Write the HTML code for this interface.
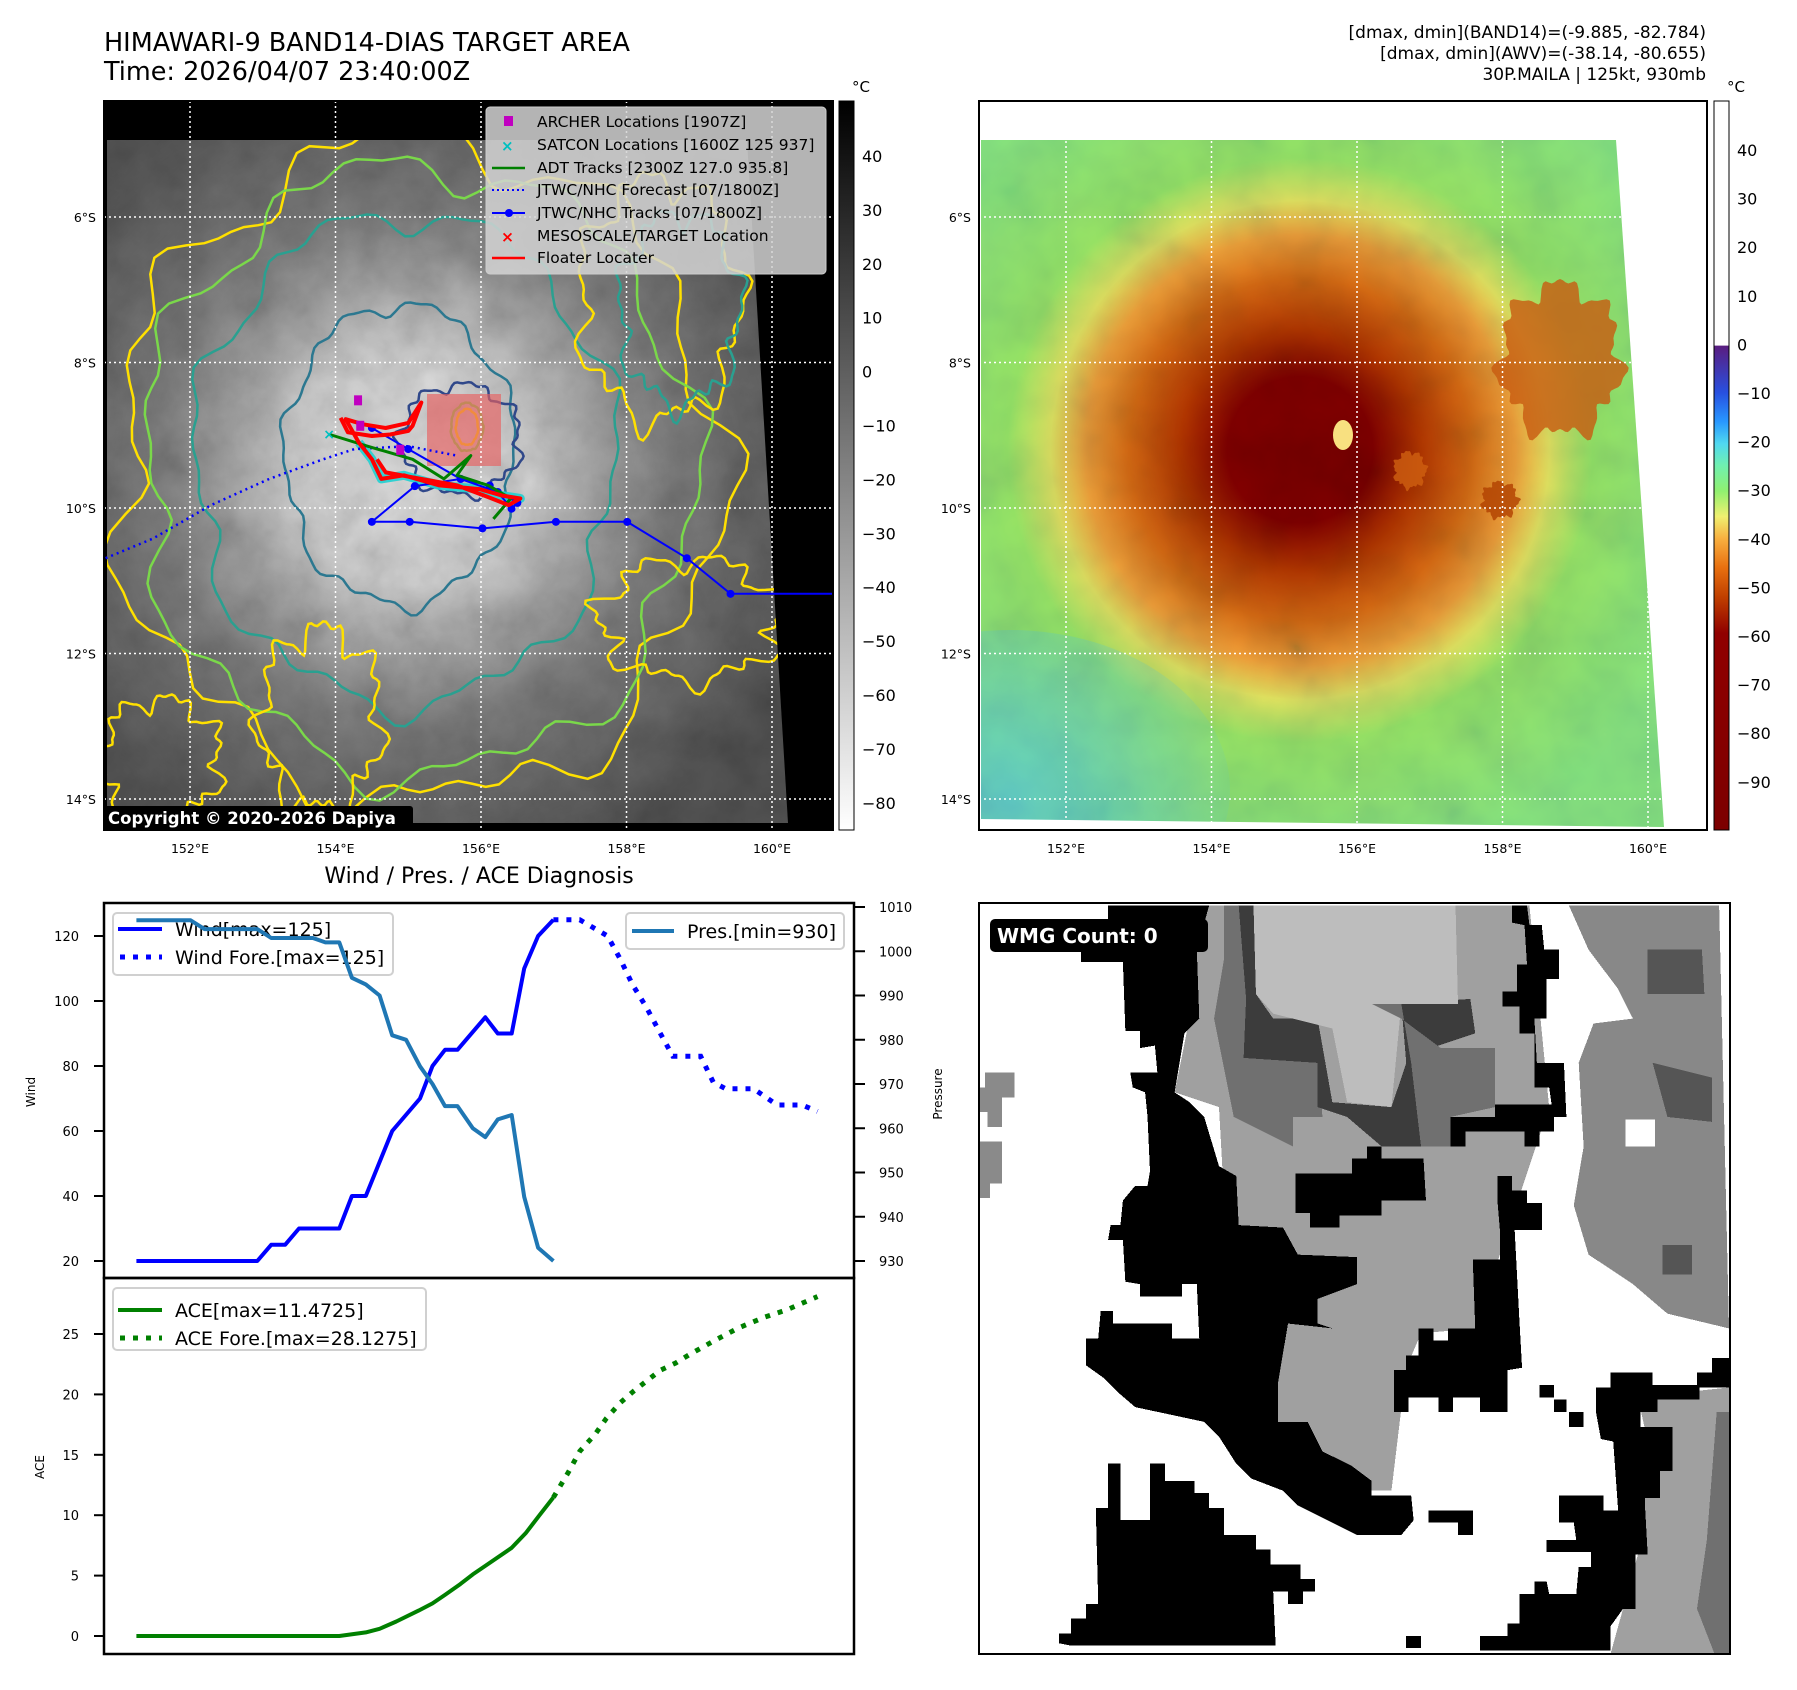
<!DOCTYPE html>
<html><head><meta charset="utf-8">
<style>
html,body{margin:0;padding:0;background:#fff;}
svg{display:block;font-family:"DejaVu Sans","Liberation Sans",sans-serif;}
</style></head>
<body>
<svg id="root" xmlns="http://www.w3.org/2000/svg" width="1797" height="1690" viewBox="0 0 1797 1690">
<defs>
  <clipPath id="clipL"><rect x="104" y="101" width="729" height="729"/></clipPath>
  <clipPath id="clipR"><rect x="979" y="101" width="728" height="729"/></clipPath>
  <clipPath id="imgL"><polygon points="107,140 747,140 788,823 107,823"/></clipPath>
  <clipPath id="imgR"><polygon points="981,140 1616,140 1664,827 981,819"/></clipPath>
  <radialGradient id="gGray" cx="412" cy="467" r="420" gradientUnits="userSpaceOnUse">
    <stop offset="0" stop-color="#f4f4f4"/>
    <stop offset="0.28" stop-color="#e0e0e0"/>
    <stop offset="0.45" stop-color="#b0b0b0"/>
    <stop offset="0.62" stop-color="#878787"/>
    <stop offset="1" stop-color="#5a5a5a"/>
  </radialGradient>
  <radialGradient id="gColor" cx="1300" cy="450" r="430" gradientUnits="userSpaceOnUse">
    <stop offset="0" stop-color="#7a0000"/>
    <stop offset="0.17" stop-color="#820000"/>
    <stop offset="0.28" stop-color="#b03800"/>
    <stop offset="0.4" stop-color="#d87018"/>
    <stop offset="0.5" stop-color="#f0a848"/>
    <stop offset="0.58" stop-color="#e0ec78"/>
    <stop offset="0.68" stop-color="#98f080"/>
    <stop offset="1" stop-color="#88f0a0"/>
  </radialGradient>
  <radialGradient id="gCyan" cx="1010" cy="800" r="260" gradientUnits="userSpaceOnUse">
    <stop offset="0" stop-color="#60d8ff" stop-opacity="0.9"/>
    <stop offset="1" stop-color="#60d8ff" stop-opacity="0"/>
  </radialGradient>
  <linearGradient id="cb1" x1="0" y1="0" x2="0" y2="1">
    <stop offset="0" stop-color="#000"/><stop offset="1" stop-color="#fff"/>
  </linearGradient>
  <linearGradient id="cb2" x1="0" y1="101" x2="0" y2="830" gradientUnits="userSpaceOnUse">
    <stop offset="0" stop-color="#ffffff"/>
    <stop offset="0.335" stop-color="#ffffff"/>
    <stop offset="0.336" stop-color="#5a1d80"/>
    <stop offset="0.40" stop-color="#2850e0"/>
    <stop offset="0.44" stop-color="#2898ff"/>
    <stop offset="0.47" stop-color="#50d8f0"/>
    <stop offset="0.50" stop-color="#70f0b0"/>
    <stop offset="0.535" stop-color="#90f070"/>
    <stop offset="0.57" stop-color="#f0f070"/>
    <stop offset="0.60" stop-color="#f8b040"/>
    <stop offset="0.64" stop-color="#e87010"/>
    <stop offset="0.68" stop-color="#c04000"/>
    <stop offset="0.73" stop-color="#900000"/>
    <stop offset="1" stop-color="#7c0000"/>
  </linearGradient>
  <filter id="noise" x="0" y="0" width="100%" height="100%">
    <feTurbulence type="fractalNoise" baseFrequency="0.025" numOctaves="4" seed="7"/>
    <feColorMatrix type="matrix" values="0.33 0.33 0.33 0 0  0.33 0.33 0.33 0 0  0.33 0.33 0.33 0 0  0 0 0 0 1"/>
  </filter>
  <filter id="noise2" x="0" y="0" width="100%" height="100%">
    <feTurbulence type="fractalNoise" baseFrequency="0.018" numOctaves="3" seed="3"/>
    <feColorMatrix type="matrix" values="1.2 0 0 0 -0.1  0.6 0.2 0 0 -0.1  0 0 0 0 0  0 0 0 0 1"/>
  </filter>
</defs>

<text x="104" y="51" font-size="25.5" fill="#000">HIMAWARI-9 BAND14-DIAS TARGET AREA</text>
<text x="104" y="80" font-size="25.5" fill="#000">Time: 2026/04/07 23:40:00Z</text>
<g font-size="17" text-anchor="end" fill="#000">
  <text x="1706" y="38">[dmax, dmin](BAND14)=(-9.885, -82.784)</text>
  <text x="1706" y="59">[dmax, dmin](AWV)=(-38.14, -80.655)</text>
  <text x="1706" y="80">30P.MAILA | 125kt, 930mb</text>
</g>

<g id="mapL">
  <g clip-path="url(#clipL)">
    <rect x="104" y="101" width="729" height="729" fill="#000"/>
    <g clip-path="url(#imgL)">
      <rect x="104" y="101" width="729" height="729" fill="url(#gGray)"/>
      <rect x="104" y="101" width="729" height="729" filter="url(#noise)" opacity="0.5" style="mix-blend-mode:multiply"/>
      <g id="contoursL" fill="none"></g>
      <rect x="427" y="394" width="74" height="72" fill="#e86060" opacity="0.65"/>
    </g>
    <g id="gridL"></g>
    <g id="tracksL"></g>
  </g>
  <rect x="104" y="101" width="729" height="729" fill="none" stroke="#000" stroke-width="2"/>
  <g>
    <rect x="486" y="107" width="340" height="167" rx="4" fill="#d4d4d4" fill-opacity="0.85" stroke="#cccccc"/>
    <g font-size="15.5" fill="#000">
      <rect x="504" y="116" width="9" height="10" fill="#c000c0"/>
      <text x="537" y="127">ARCHER Locations [1907Z]</text>
      <text x="501" y="151" fill="#00c0c0" font-size="15" font-weight="bold">×</text>
      <text x="537" y="150">SATCON Locations [1600Z 125 937]</text>
      <line x1="492" y1="168" x2="525" y2="168" stroke="#008000" stroke-width="2.5"/>
      <text x="537" y="173">ADT Tracks [2300Z 127.0 935.8]</text>
      <line x1="492" y1="190" x2="525" y2="190" stroke="#0000ff" stroke-width="2" stroke-dasharray="2,3"/>
      <text x="537" y="195">JTWC/NHC Forecast [07/1800Z]</text>
      <line x1="492" y1="213" x2="525" y2="213" stroke="#0000ff" stroke-width="2"/>
      <circle cx="509" cy="213" r="4" fill="#0000ff"/>
      <text x="537" y="218">JTWC/NHC Tracks [07/1800Z]</text>
      <text x="501" y="242" fill="#ff0000" font-weight="bold">×</text>
      <text x="537" y="241">MESOSCALE/TARGET Location</text>
      <line x1="492" y1="258" x2="525" y2="258" stroke="#ff0000" stroke-width="2.5"/>
      <text x="537" y="263">Floater Locater</text>
    </g>
  </g>
  <rect x="104" y="806" width="309" height="23" rx="3" fill="#000"/>
  <text x="108" y="824" font-size="16.5" font-weight="bold" fill="#fff">Copyright © 2020-2026 Dapiya</text>
  <g id="axisL" font-size="12.5" fill="#000"></g>
</g>
<g>
  <rect x="839" y="101" width="15" height="729" fill="url(#cb1)" stroke="#000" stroke-width="1"/>
  <text x="852" y="92" font-size="15">°C</text>
  <g id="cb1ticks" font-size="16"></g>
</g>

<g id="mapR">
  <g clip-path="url(#clipR)">
    <rect x="979" y="101" width="728" height="729" fill="#fff"/>
    <g clip-path="url(#imgR)">
      <rect x="979" y="101" width="728" height="729" fill="#88f088"/>
      <rect x="979" y="101" width="728" height="729" fill="url(#gColor)"/>
      <ellipse cx="1010" cy="790" rx="220" ry="160" fill="url(#gCyan)"/>
      <rect x="979" y="101" width="728" height="729" filter="url(#noise2)" opacity="0.22" style="mix-blend-mode:multiply"/>
      <g id="blobsR"></g>
      <ellipse cx="1343" cy="435" rx="10" ry="15" fill="#f8e080"/>
    </g>
    <g id="gridR"></g>
  </g>
  <rect x="979" y="101" width="728" height="729" fill="none" stroke="#000" stroke-width="2"/>
  <g id="axisR" font-size="12.5" fill="#000"></g>
</g>
<g>
  <rect x="1714" y="101" width="15" height="729" fill="url(#cb2)" stroke="#000" stroke-width="1"/>
  <text x="1727" y="92" font-size="15">°C</text>
  <g id="cb2ticks" font-size="16"></g>
</g>

<text x="479" y="883" font-size="22" text-anchor="middle">Wind / Pres. / ACE Diagnosis</text>
<g id="chart"></g>

<g>
  <svg x="979" y="903" width="751" height="751" viewBox="3 5 1524 1527" preserveAspectRatio="none">
    <rect x="0" y="0" width="1530" height="1540" fill="#fff"/>
    <g id="wmg" shape-rendering="crispEdges"></g>
  </svg>
  <rect x="979" y="903" width="751" height="751" fill="none" stroke="#000" stroke-width="2"/>
  <rect x="990" y="919" width="218" height="33" rx="5" fill="#000"/>
  <text x="997" y="943" font-size="20" font-weight="bold" fill="#fff">WMG Count: 0</text>
</g>

<script>
var NS = "http://www.w3.org/2000/svg";
function mk(tag, attrs, parent) {
  var e = document.createElementNS(NS, tag);
  for (var k in attrs) e.setAttribute(k, attrs[k]);
  if (parent) parent.appendChild(e);
  return e;
}

var mapLonTicks = [152, 154, 156, 158, 160];
var mapLatTicks = [6, 8, 10, 12, 14];
var jtwcTrackLon = [161.2, 159.43, 158.83, 158.01, 157.03, 156.02, 155.02, 154.50, 155.09, 155.72, 156.12, 156.50, 156.42, 156.23, 155.72, 155.0, 154.50];
var jtwcTrackLat = [-11.18, -11.18, -10.69, -10.19, -10.19, -10.28, -10.19, -10.19, -9.70, -9.60, -9.69, -9.93, -10.01, -9.78, -9.60, -9.19, -8.90];
var jtwcFcstLon = [150.84, 151.49, 152.29, 153.09, 153.83, 154.26, 155.0, 155.67];
var jtwcFcstLat = [-10.69, -10.42, -9.96, -9.60, -9.33, -9.19, -9.15, -9.28];
var floaterLon = [154.07, 154.17, 154.50, 154.75, 155.0, 155.06, 155.18, 155.0, 154.69, 154.38, 154.14, 154.32, 154.5, 154.63, 154.94, 155.43, 155.98, 156.29, 156.54, 156.38, 156.1, 155.67, 155.06, 154.69, 154.57];
var floaterLat = [-8.76, -8.96, -9.01, -8.99, -8.94, -8.87, -8.55, -8.83, -8.90, -8.85, -8.78, -9.10, -9.33, -9.60, -9.55, -9.69, -9.74, -9.83, -9.87, -9.96, -9.85, -9.69, -9.58, -9.51, -9.33];
var adtLon = [153.92, 154.44, 155.06, 155.49, 155.86, 155.67, 156.1, 156.41, 156.17];
var adtLat = [-8.99, -9.15, -9.33, -9.60, -9.28, -9.55, -9.69, -9.87, -10.15];
var archerLon = [154.31, 154.34, 154.89];
var archerLat = [-8.52, -8.87, -9.20];
var satconLon = [153.9];
var satconLat = [-8.98];

var K = 72.75;
function mxL(lon) { return 190 + (lon - 152) * K; }
function mxR(lon) { return 1066 + (lon - 152) * K; }
function my(lat) { return 217 + (-lat - 6) * K; }
function pts(lons, lats, fx) { return lons.map(function (l, i) { return fx(l).toFixed(1) + "," + my(lats[i]).toFixed(1); }).join(" "); }

function drawGrid(gid, aid, fx, x0, x1, labelX) {
  var g = document.getElementById(gid), a = document.getElementById(aid);
  mapLonTicks.forEach(function (lon) {
    var gl = mk("line", {x1: fx(lon), x2: fx(lon), y1: 101, y2: 830, stroke: "#fff", "stroke-width": 1.5, "stroke-dasharray": "2,3"}, g);
    
    
    var t = mk("text", {x: fx(lon), y: 853, "text-anchor": "middle"}, a);
    t.textContent = lon + "°E";
    
    
  });
  mapLatTicks.forEach(function (lat) {
    var gl = mk("line", {x1: x0, x2: x1, y1: my(-lat), y2: my(-lat), stroke: "#fff", "stroke-width": 1.5, "stroke-dasharray": "2,3"}, g);
    
    
    var t = mk("text", {x: labelX, y: my(-lat) + 5, "text-anchor": "end"}, a);
    t.textContent = lat + "°S";
    
    
  });
}
drawGrid("gridL", "axisL", mxL, 104, 833, 96);
drawGrid("gridR", "axisR", mxR, 979, 1707, 971);

function ring(cx, cy, rx, ry, amp, seed) {
  var d = "", n = 140;
  for (var i = 0; i <= n; i++) {
    var t = i / n * Math.PI * 2;
    var w = 1 + amp * (Math.sin(t * 7 + seed) * 0.5 + Math.sin(t * 13 + seed * 2) * 0.3 + Math.sin(t * 23 + seed * 3) * 0.2);
    d += (i ? "L" : "M") + (cx + rx * w * Math.cos(t)).toFixed(1) + "," + (cy + ry * w * Math.sin(t)).toFixed(1);
  }
  return d + "Z";
}
(function () {
  var g = document.getElementById("contoursL");
  var rings = [
    [420, 470, 300, 330, 0.12, 1, "#ffe000"], [420, 470, 275, 305, 0.1, 2, "#7ad84a"],
    [405, 460, 210, 245, 0.09, 3, "#2aa090"], [400, 455, 115, 150, 0.08, 4, "#2c7890"],
    [460, 440, 60, 55, 0.15, 5, "#30488a"], [467, 427, 11, 18, 0.05, 6, "#ffe000"],
    [467, 427, 16, 24, 0.05, 7, "#7ad84a"], [660, 300, 80, 120, 0.2, 8, "#ffe000"],
    [680, 310, 60, 95, 0.2, 9, "#2aa090"], [690, 620, 90, 60, 0.25, 10, "#ffe000"],
    [160, 760, 60, 60, 0.25, 11, "#ffe000"], [320, 720, 60, 90, 0.25, 12, "#ffe000"]
  ];
  rings.forEach(function (r) {
    var p = mk("path", {d: ring(r[0], r[1], r[2], r[3], r[4], r[5]), stroke: r[6], "stroke-width": 2.5, fill: "none"}, g);
    
    
  });
  var gb = document.getElementById("blobsR");
  var blobs = [[1560, 360, 60, 75, "#c85a10"], [1500, 500, 18, 18, "#b04000"], [1410, 470, 16, 18, "#d06010"]];
  blobs.forEach(function (b, i) {
    var p = mk("path", {d: ring(b[0], b[1], b[2], b[3], 0.2, i), fill: b[4], opacity: 0.8}, gb);
    
    
  });
})();

(function () {
  var g = document.getElementById("tracksL");
  var cy = mk("polyline", {points: pts(floaterLon.slice(11, 20), floaterLat.slice(11, 20), mxL), fill: "none", stroke: "#20d0d0", "stroke-width": 9, "stroke-linejoin": "round", opacity: 0.9}, g);
  
  
  var fc = mk("polyline", {points: pts(jtwcFcstLon, jtwcFcstLat, mxL), fill: "none", stroke: "#0000ff", "stroke-width": 2.5, "stroke-dasharray": "2,4"}, g);
  
  
  var tr = mk("polyline", {points: pts(jtwcTrackLon, jtwcTrackLat, mxL), fill: "none", stroke: "#0000ff", "stroke-width": 2}, g);
  
  
  jtwcTrackLon.forEach(function (lon, i) {
    var c = mk("circle", {cx: mxL(lon), cy: my(jtwcTrackLat[i]), r: 4, fill: "#0000ff"}, g);
    
    
  });
  var ad = mk("polyline", {points: pts(adtLon, adtLat, mxL), fill: "none", stroke: "#008000", "stroke-width": 3, "stroke-linejoin": "round"}, g);
  
  
  var fl = mk("polyline", {points: pts(floaterLon, floaterLat, mxL), fill: "none", stroke: "#ff0000", "stroke-width": 4, "stroke-linejoin": "round"}, g);
  
  
  archerLon.forEach(function (lon, i) {
    var r = mk("rect", {x: mxL(lon) - 4, y: my(archerLat[i]) - 5, width: 8, height: 10, fill: "#c000c0"}, g);
    
    
  });
  satconLon.forEach(function (lon, i) {
    var t = mk("text", {x: mxL(lon) - 5, y: my(satconLat[i]) + 5, fill: "#00c0c0", "font-size": 14, "font-weight": "bold"}, g);
    t.textContent = "×";
    
    
  });
})();

var cb1Ticks = [40, 30, 20, 10, 0, -10, -20, -30, -40, -50, -60, -70, -80];
var cb2Ticks = [40, 30, 20, 10, 0, -10, -20, -30, -40, -50, -60, -70, -80, -90];
(function () {
  var g1 = document.getElementById("cb1ticks");
  cb1Ticks.forEach(function (v) {
    var y = 156 + (40 - v) * 5.39;
    var t = mk("text", {x: 862, y: y + 6}, g1);
    t.textContent = (v < 0 ? "\u2212" + (-v) : v);
    
    
  });
  var g2 = document.getElementById("cb2ticks");
  cb2Ticks.forEach(function (v) {
    var y = 150 + (40 - v) * 4.86;
    var t = mk("text", {x: 1737, y: y + 6}, g2);
    t.textContent = (v < 0 ? "\u2212" + (-v) : v);
    
    
  });
})();

var windObsX = [0, 8.7, 9.7, 10.7, 11.7, 14.6, 15.5, 16.5, 18.4, 20.4, 21.3, 22.2, 23.1, 25.1, 26, 27, 27.9, 28.9, 30];
var windObsY = [20, 20, 25, 25, 30, 30, 40, 40, 60, 70, 80, 85, 85, 95, 90, 90, 110, 120, 125];
var windFcX = [30, 31.9, 33.9, 34.8, 35.7, 36.7, 37.7, 38.6, 40.6, 41.5, 42.4, 44.4, 46.1, 47.9, 49];
var windFcY = [125, 125, 120, 113, 105, 98, 90, 83, 83, 75, 73, 73, 68, 68, 66];
var presX = [0, 3.9, 4.9, 8.7, 9.7, 12.7, 13.6, 14.6, 15.5, 16.5, 17.5, 18.4, 19.4, 20.4, 21.3, 22.2, 23.1, 24.2, 25.1, 26, 27, 27.9, 28.9, 30];
var presY = [1007, 1007, 1005, 1005, 1003, 1003, 1002, 1002, 994, 992.5, 990, 981, 980, 974, 970, 965, 965, 960, 958, 962, 963, 944.5, 933, 930];
var aceObsX = [0, 14.6, 16.5, 17.5, 18.7, 20.3, 21.3, 22.2, 23.3, 24.2, 25.1, 27, 28, 29, 30];
var aceObsY = [0, 0, 0.3, 0.6, 1.2, 2.1, 2.7, 3.4, 4.3, 5.1, 5.8, 7.3, 8.5, 10, 11.47];
var aceFcX = [30, 31.1, 31.9, 33, 33.8, 34.8, 35.7, 36.7, 37.7, 38.8, 39.8, 41.5, 43.3, 45.2, 46.8, 49];
var aceFcY = [11.47, 13.6, 15.3, 16.7, 18, 19.3, 20.2, 21.1, 22, 22.6, 23.3, 24.4, 25.5, 26.4, 27, 28.1];
var windTicks = [20, 40, 60, 80, 100, 120];
var presTicks = [930, 940, 950, 960, 970, 980, 990, 1000, 1010];
var aceTicks = [0, 5, 10, 15, 20, 25];

function cx(i) { return 136.4 + i * 13.9; }
function wy(v) { return 1261 - (v - 20) * 3.25; }
function py(v) { return 1261 - (v - 930) * 4.425; }
function ay(v) { return 1636 - v * 12.08; }
function lp(xs, ys, fy) { return xs.map(function (x, i) { return cx(x).toFixed(1) + "," + fy(ys[i]).toFixed(1); }).join(" "); }

(function () {
  var g = document.getElementById("chart");
  var top = mk("rect", {x: 104, y: 903, width: 750, height: 375, fill: "none", stroke: "#000", "stroke-width": 2.5}, g);
  
  
  var bot = mk("rect", {x: 104, y: 1278, width: 750, height: 376, fill: "none", stroke: "#000", "stroke-width": 2.5}, g);
  
  

  windTicks.forEach(function (v) {
    var l = mk("line", {x1: 94, x2: 104, y1: wy(v), y2: wy(v), stroke: "#000", "stroke-width": 2}, g);
    
    
    var t = mk("text", {x: 79, y: wy(v) + 5, "text-anchor": "end", "font-size": 13}, g);
    t.textContent = v;
    
    
  });
  presTicks.forEach(function (v) {
    var l = mk("line", {x1: 854, x2: 865, y1: py(v), y2: py(v), stroke: "#000", "stroke-width": 2}, g);
    
    
    var t = mk("text", {x: 879, y: py(v) + 5, "font-size": 13}, g);
    t.textContent = v;
    
    
  });
  aceTicks.forEach(function (v) {
    var l = mk("line", {x1: 94, x2: 104, y1: ay(v), y2: ay(v), stroke: "#000", "stroke-width": 2}, g);
    
    
    var t = mk("text", {x: 79, y: ay(v) + 5, "text-anchor": "end", "font-size": 13}, g);
    t.textContent = v;
    
    
  });
  var yl1 = mk("text", {x: 0, y: 0, "font-size": 12, "text-anchor": "middle", transform: "translate(35,1092) rotate(-90)"}, g);
  yl1.textContent = "Wind";
  
  
  var yl2 = mk("text", {x: 0, y: 0, "font-size": 12, "text-anchor": "middle", transform: "translate(942,1094) rotate(-90)"}, g);
  yl2.textContent = "Pressure";
  
  
  var yl3 = mk("text", {x: 0, y: 0, "font-size": 12, "text-anchor": "middle", transform: "translate(44,1467) rotate(-90)"}, g);
  yl3.textContent = "ACE";
  
  

  var w1 = mk("polyline", {points: lp(windObsX, windObsY, wy), fill: "none", stroke: "#0000ff", "stroke-width": 4, "stroke-linejoin": "round"}, g);
  
  
  var w2 = mk("polyline", {points: lp(windFcX, windFcY, wy), fill: "none", stroke: "#0000ff", "stroke-width": 5, "stroke-dasharray": "5,8"}, g);
  
  
  var a1 = mk("polyline", {points: lp(aceObsX, aceObsY, ay), fill: "none", stroke: "#008000", "stroke-width": 4, "stroke-linejoin": "round"}, g);
  
  
  var a2 = mk("polyline", {points: lp(aceFcX, aceFcY, ay), fill: "none", stroke: "#008000", "stroke-width": 5, "stroke-dasharray": "5,8"}, g);
  
  

  var lg1 = mk("g", {}, g);
  
  
  mk("rect", {x: 113, y: 913, width: 280, height: 62, rx: 4, fill: "#fff", "fill-opacity": 0.8, stroke: "#d0d0d0", "stroke-width": 2}, lg1);
  mk("line", {x1: 118, x2: 162, y1: 929, y2: 929, stroke: "#0000ff", "stroke-width": 4}, lg1);
  mk("line", {x1: 120, x2: 162, y1: 957, y2: 957, stroke: "#0000ff", "stroke-width": 5, "stroke-dasharray": "5,8"}, lg1);
  var t1 = mk("text", {x: 175, y: 936, "font-size": 19}, lg1); t1.textContent = "Wind[max=125]";
  var t2 = mk("text", {x: 175, y: 964, "font-size": 19}, lg1); t2.textContent = "Wind Fore.[max=125]";

  var p1 = mk("polyline", {points: lp(presX, presY, py), fill: "none", stroke: "#1f77b4", "stroke-width": 4, "stroke-linejoin": "round"}, g);
  
  

  var lg2 = mk("g", {}, g);
  
  
  mk("rect", {x: 626, y: 913, width: 218, height: 36, rx: 4, fill: "#fff", "fill-opacity": 0.8, stroke: "#d0d0d0", "stroke-width": 2}, lg2);
  mk("line", {x1: 632, x2: 674, y1: 931, y2: 931, stroke: "#1f77b4", "stroke-width": 4}, lg2);
  var t3 = mk("text", {x: 687, y: 938, "font-size": 19}, lg2); t3.textContent = "Pres.[min=930]";

  var lg3 = mk("g", {}, g);
  
  
  mk("rect", {x: 113, y: 1288, width: 313, height: 62, rx: 4, fill: "#fff", "fill-opacity": 0.8, stroke: "#d0d0d0", "stroke-width": 2}, lg3);
  mk("line", {x1: 118, x2: 162, y1: 1310, y2: 1310, stroke: "#008000", "stroke-width": 4}, lg3);
  mk("line", {x1: 120, x2: 162, y1: 1338, y2: 1338, stroke: "#008000", "stroke-width": 5, "stroke-dasharray": "5,8"}, lg3);
  var t4 = mk("text", {x: 175, y: 1317, "font-size": 19}, lg3); t4.textContent = "ACE[max=11.4725]";
  var t5 = mk("text", {x: 175, y: 1345, "font-size": 19}, lg3); t5.textContent = "ACE Fore.[max=28.1275]";
})();

(function () {
  var g = document.getElementById("wmg");
  var regions = [
    ["#888888", "1200,10 1505,10 1525,870 1400,840 1330,780 1240,720 1210,620 1230,500 1220,330 1250,250 1330,240 1300,180 1240,100"],
    ["#a0a0a0", "440,10 1120,10 1160,420 1060,720 1010,870 900,880 870,950 840,1200 760,1200 700,1150 670,1060 610,1060 610,980 630,860 690,840 690,800 650,720 480,720 470,660 500,600 490,420 400,390 430,240"],
    ["#a0a0a0", "1340,1010 1525,990 1525,1530 1285,1530 1310,1440 1340,1330 1330,1240 1360,1100"],
    ["#707070", "1500,1040 1525,1040 1525,1530 1495,1530 1460,1440 1480,1300"],
    ["#707070", "500,10 530,10 545,200 540,320 690,330 700,440 640,440 640,500 520,440 480,240 500,120"],
    ["#3c3c3c", "530,10 560,10 565,190 600,240 690,240 720,410 840,420 870,330 860,210 1000,200 1010,270 920,300 880,330 900,500 820,500 750,440 690,420 690,330 540,320 545,200"],
    ["#bdbdbd", "560,10 970,10 975,210 860,210 840,420 750,410 720,260 600,230 565,190"],
    ["#707070", "800,210 860,210 880,330 900,500 960,500 960,440 1050,420 1050,300 940,300 860,240"],
    ["#555555", "1360,100 1470,100 1475,190 1360,190"],
    ["#555555", "1370,330 1490,360 1490,450 1400,440"],
    ["#555555", "1390,700 1450,700 1450,760 1390,760"],
    ["#000000", "265,10 470,10 445,100 450,240 420,270 400,390 430,410 460,440 490,540 525,560 530,660 620,665 650,720 770,725 770,780 690,810 690,860 720,870 630,860 610,980 610,1060 670,1060 700,1120 760,1150 800,1180 800,1210 880,1210 885,1260 860,1290 770,1290 710,1260 650,1230 620,1200 555,1175 525,1145 490,1090 460,1060 320,1030 285,1000 255,970 220,945 220,890 245,890 250,835 275,835 275,860 395,860 395,890 450,890 445,780 415,780 415,805 330,805 330,780 300,775 295,690 265,690 270,660 290,660 295,610 320,580 345,580 350,550 345,440 340,390 315,380 310,350 365,350 360,295 330,300 330,265 300,265 295,125 210,125 210,95 265,95"],
    ["#000000", "645,555 760,555 760,525 790,525 790,500 820,500 820,525 905,525 910,610 820,610 820,640 735,640 735,665 675,665 675,635 645,635"],
    ["#000000", "1085,10 1115,10 1120,50 1145,50 1150,100 1180,100 1180,160 1155,160 1155,240 1130,240 1135,330 1190,330 1195,440 1170,440 1170,470 1140,470 1140,500 1110,500 1110,470 990,470 990,500 960,500 960,440 1050,440 1050,415 1165,415 1160,380 1130,380 1130,270 1100,270 1100,215 1065,215 1065,185 1095,185 1095,130 1115,130 1110,50 1085,45"],
    ["#000000", "1055,560 1085,560 1085,590 1115,590 1115,615 1145,615 1145,670 1090,670 1100,860 1105,950 1075,955 1075,1040 1020,1040 1020,1010 965,1010 965,1040 935,1040 935,1010 875,1010 875,1040 845,1040 845,955 870,955 870,925 895,925 895,870 925,870 925,895 955,895 955,870 1010,870 1005,730 1060,730 1060,670 1055,610"],
    ["#000000", "265,1145 290,1145 290,1260 350,1260 350,1145 380,1145 380,1180 440,1180 440,1205 470,1205 470,1235 500,1235 500,1290 565,1290 565,1320 595,1320 595,1350 655,1350 655,1380 685,1380 685,1405 660,1405 660,1430 630,1430 630,1405 600,1405 605,1515 190,1515 165,1510 165,1490 190,1490 190,1460 220,1460 220,1430 245,1430 240,1235 265,1235"],
    ["#000000", "1255,990 1285,990 1285,960 1370,960 1370,985 1460,985 1460,960 1490,960 1490,930 1525,930 1525,990 1465,990 1465,1015 1380,1015 1380,1040 1345,1040 1345,1070 1410,1070 1410,1160 1385,1160 1385,1215 1355,1215 1355,1240 1360,1330 1335,1330 1335,1440 1310,1440 1285,1475 1285,1525 1020,1525 1020,1495 1075,1495 1075,1470 1100,1470 1100,1410 1130,1410 1130,1385 1155,1385 1160,1410 1215,1410 1220,1355 1245,1355 1245,1325 1155,1325 1155,1300 1215,1300 1210,1265 1180,1265 1180,1210 1270,1210 1270,1240 1300,1240 1290,1100 1265,1095 1255,1040"],
    ["#000000", "915,1240 1005,1240 1005,1290 975,1290 975,1265 915,1265"],
    ["#000000", "1140,985 1170,985 1170,1010 1140,1010"],
    ["#000000", "1170,1015 1195,1015 1195,1040 1170,1040"],
    ["#000000", "1200,1040 1230,1040 1230,1070 1200,1070"],
    ["#000000", "870,1495 900,1495 900,1520 870,1520"],
    ["#ffffff", "1315,445 1375,445 1375,500 1315,500"],
    ["#8a8a8a", "15,350 75,350 75,400 50,400 50,460 20,460 20,430 0,430 0,380 15,380"],
    ["#8a8a8a", "0,490 50,490 50,575 25,575 25,605 0,605"]
  ];
  regions.forEach(function (r) {
    var p = mk("polygon", {points: r[1], fill: r[0]}, g);
    
    
  });
})();
</script>
</svg>
</body></html>
